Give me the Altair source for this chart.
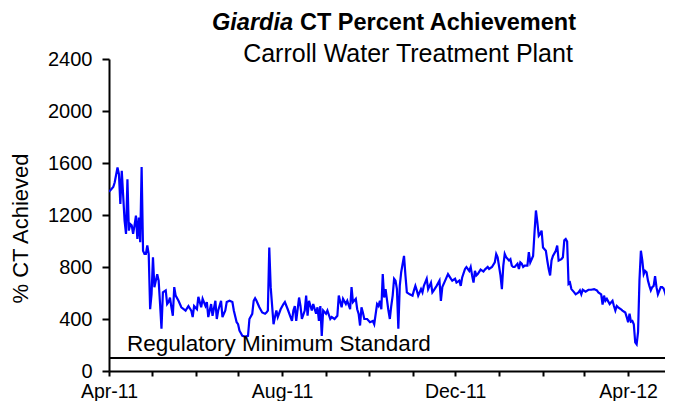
import altair as alt
import pandas as pd

# Day offsets from 1 Apr 2011 and % CT achieved
days = [0, 1, 3, 4, 6, 7, 8, 9, 11, 12, 13, 14, 15, 16, 17, 18, 19, 20, 21, 22, 23, 24, 25, 26, 27, 28, 29, 30,
        31, 32, 34, 35, 36, 37, 38, 40, 41, 42, 43, 44, 45, 46, 47, 49, 51, 54, 56, 58, 59, 60, 62, 63, 65, 66,
        68, 69, 70, 72, 73, 75, 76, 77, 79, 80, 82, 83, 85, 87, 88, 90, 91, 92, 94, 96, 98, 99, 101, 102, 103,
        104, 106, 108, 110, 111, 112, 113, 114, 116, 117, 118, 119, 121, 123, 124, 126, 128, 129, 130, 131, 132,
        134, 135, 136, 138, 139, 140, 141, 143, 144, 146, 147, 148, 149, 150, 151, 153, 154, 156, 157, 159, 161,
        162, 164, 165, 167, 168, 170, 171, 172, 174, 175, 176, 177, 178, 179, 180, 182, 184, 186, 187, 189, 190,
        191, 192, 193, 194, 195, 197, 198, 199, 200, 201, 202, 203, 204, 205, 206, 208, 209, 210, 212, 214, 215,
        216, 217, 218, 220, 221, 222, 224, 225, 227, 228, 229, 231, 233, 234, 235, 237, 239, 241, 242, 244, 245,
        247, 248, 249, 251, 252, 254, 255, 256, 257, 258, 259, 260, 262, 264, 265, 267, 268, 270, 272, 273, 274,
        276, 277, 278, 279, 280, 282, 283, 284, 285, 286, 288, 289, 290, 291, 292, 293, 295, 296, 297, 298, 299,
        300, 301, 302, 303, 304, 305, 306, 308, 309, 310, 311, 312, 313, 315, 316, 317, 319, 320, 321, 322, 323,
        324, 325, 326, 328, 329, 331, 332, 333, 334, 336, 338, 340, 342, 344, 345, 347, 348, 349, 350, 351, 353,
        355, 356, 357, 358, 359, 361, 362, 364, 365, 366, 367, 368, 369, 370, 371, 372, 373, 374, 375, 376, 377,
        378, 379, 380, 381, 382, 383, 384, 385, 386, 387, 389, 390, 391, 392, 393, 394, 395]

ct_values = [1380, 1390, 1415, 1450, 1565, 1515, 1285, 1540, 1155, 1055, 1475, 1080, 1130, 1120, 1055, 1120, 1195,
             1015, 1180, 990, 1570, 925, 900, 900, 965, 900, 475, 590, 875, 645, 745, 695, 515, 325, 605, 620, 515,
             530, 565, 490, 425, 645, 580, 540, 490, 465, 500, 465, 415, 500, 475, 570, 490, 555, 500, 530, 415, 515,
             425, 540, 400, 465, 540, 415, 465, 530, 540, 530, 465, 375, 360, 310, 270, 265, 270, 400, 440, 540, 560,
             540, 490, 450, 440, 450, 465, 950, 645, 360, 415, 465, 415, 475, 515, 530, 475, 415, 385, 465, 500, 385,
             565, 500, 400, 465, 580, 425, 540, 465, 515, 440, 490, 385, 500, 270, 465, 440, 465, 400, 415, 400, 425,
             580, 490, 555, 515, 540, 475, 645, 530, 555, 475, 440, 350, 490, 450, 400, 400, 375, 385, 360, 515, 500,
             540, 475, 745, 565, 630, 465, 400, 500, 580, 710, 695, 630, 325, 655, 760, 885, 735, 605, 590, 580, 620,
             655, 620, 580, 630, 605, 655, 710, 630, 680, 605, 620, 655, 695, 540, 645, 695, 745, 710, 695, 710, 680,
             695, 655, 720, 785, 800, 770, 800, 735, 680, 770, 735, 745, 780, 765, 780, 800, 785, 800, 835, 900, 875,
             735, 630, 810, 900, 875, 850, 860, 810, 800, 800, 825, 785, 835, 825, 800, 810, 810, 915, 835, 860, 885,
             1065, 1235, 1145, 1040, 1055, 1080, 950, 925, 850, 785, 735, 850, 885, 925, 965, 850, 860, 875, 1005,
             1015, 995, 670, 680, 630, 605, 590, 605, 620, 590, 625, 610, 625, 625, 630, 620, 605, 590, 510, 580, 540,
             555, 515, 540, 500, 465, 500, 490, 475, 465, 450, 415, 375, 440, 380, 385, 360, 220, 205, 300, 700, 925,
             850, 745, 770, 760, 695, 655, 620, 645, 655, 730, 645, 590, 645, 645, 635, 605, 565, 590, 610]

reg_min = [100]
reg_label = ["Regulatory Minimum Standard"]
y_ticks = [0, 400, 800, 1200, 1600, 2000, 2400]
title_italic = ["Giardia"]
title_rest = ["CT Percent Achievement"]
subtitle = ["Carroll Water Treatment Plant"]

FONT = "Liberation Sans"

start = pd.Timestamp("2011-04-01")
df = pd.DataFrame({
    "date": [(start + pd.Timedelta(days=d)).strftime("%Y-%m-%dT00:00:00") for d in days],
    "ct": ct_values,
})
reg_df = pd.DataFrame({"reg": reg_min, "label": reg_label})

month_ticks = [alt.DateTime(year=2011 + (3 + i) // 12, month=(3 + i) % 12 + 1, date=1) for i in range(13)]

x_enc = alt.X(
    "date:T",
    title="",
    scale=alt.Scale(domain=[alt.DateTime(year=2011, month=4, date=1), alt.DateTime(year=2012, month=4, date=27)]),
    axis=alt.Axis(
        values=month_ticks,
        labelExpr="month(datum.value) % 4 == 3 ? timeFormat(datum.value, '%b-%y') : ''",
        labelFlush=False, labelOverlap=False, labelBound=False,
        labelFont=FONT, labelFontSize=19.5, labelColor="black", labelPadding=6,
        tickSize=5, tickColor="black", tickWidth=2,
        domainColor="black", domainWidth=2, grid=False,
    ),
)

y_scale = alt.Scale(domain=[0, 2400], nice=False)

line = alt.Chart(df).mark_line(color="#0000FF", strokeWidth=2.2, clip=True).encode(
    x=x_enc,
    y=alt.Y(
        "ct:Q",
        scale=y_scale,
        axis=alt.Axis(
            values=y_ticks, format="d", grid=False,
            labelFont=FONT, labelFontSize=20, labelColor="black", labelPadding=10,
            tickSize=7, tickColor="black", tickWidth=2,
            domainColor="black", domainWidth=2,
            title="% CT Achieved", titleFont=FONT, titleFontSize=22, titleFontWeight="normal",
            titleColor="black", titleAngle=270, titleX=-89, titleY=169,
            titleAlign="center", titleBaseline="middle",
        ),
    ),
)

rule = alt.Chart(reg_df).mark_rule(color="black", strokeWidth=2).encode(
    y=alt.Y("reg:Q", scale=y_scale)
)

reg_text = alt.Chart(reg_df).mark_text(
    align="left", baseline="alphabetic", dy=-7, font=FONT, fontSize=22.5, color="black"
).encode(x=alt.value(18), y=alt.Y("reg:Q", scale=y_scale), text="label:N")

t1 = alt.Chart(pd.DataFrame({"t": title_italic})).mark_text(
    align="right", baseline="alphabetic", font=FONT, fontSize=23.5, fontWeight="bold",
    fontStyle="italic", color="black"
).encode(x=alt.value(184), y=alt.value(-29), text="t:N")

t2 = alt.Chart(pd.DataFrame({"t": title_rest})).mark_text(
    align="left", baseline="alphabetic", font=FONT, fontSize=23.5, fontWeight="bold", color="black"
).encode(x=alt.value(191), y=alt.value(-29), text="t:N")

t3 = alt.Chart(pd.DataFrame({"t": subtitle})).mark_text(
    align="center", baseline="alphabetic", font=FONT, fontSize=25, color="black"
).encode(x=alt.value(299), y=alt.value(3), text="t:N")

chart = alt.layer(line, rule, reg_text, t1, t2, t3).properties(
    width=556, height=312,
    autosize=alt.AutoSizeParams(type="none"),
    padding={"left": 101, "top": 51, "right": 0, "bottom": 30},
    background="white",
).configure_view(stroke=None)

chart.save("out.html", embed_options={"renderer": "svg", "actions": False})
